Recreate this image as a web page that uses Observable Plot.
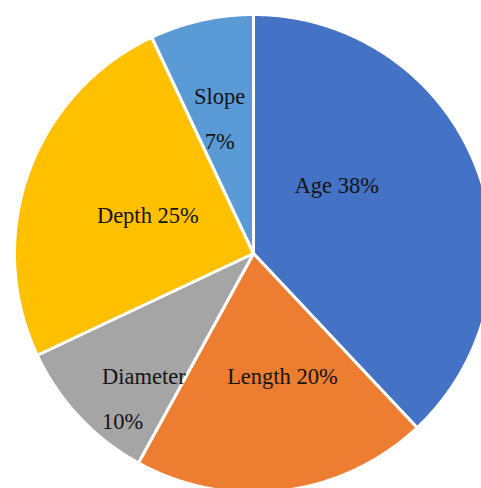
<!DOCTYPE html>
<html>
<head>
<meta charset="utf-8">
<script src="https://cdn.jsdelivr.net/npm/d3@7"></script>
<script src="https://cdn.jsdelivr.net/npm/@observablehq/plot@0.6"></script>
<style>
  html, body { margin: 0; padding: 0; background: #ffffff; }
  #chart { width: 481px; height: 488px; overflow: hidden; }
</style>
</head>
<body>
<div id="chart"></div>
<script>
// ---- data ----
const categories = ["Age", "Length", "Diameter", "Depth", "Slope"];
const shares = [38, 20, 10, 25, 7];
const labelTexts = ["Age 38%", "Length 20%", "Diameter\n10%", "Depth 25%", "Slope\n7%"];
const colors = ["#4472C4", "#ED7D31", "#A5A5A5", "#FFC000", "#5B9BD5"];

// ---- layout (label placement relative to slice mid-angle, in radius units) ----
const labelRadius = [0.45, 0.53, 0.88, 0.47, 0.58];
const labelAngleShift = [-17.7, -6, -0.7, 0, -1.5]; // degrees
const labelAnchor = ["middle", "middle", "start", "middle", "middle"];

const W = 481, H = 488;
const R = 239, CX = 253, CY = 253;  // pixel geometry of the pie frame

const pie = d3.pie().sort(null).value(d => d)(shares);

function slicePoints(a, i) {
  const pts = [{x: 0, y: 0, name: categories[i]}];
  const n = Math.max(2, Math.ceil((a.endAngle - a.startAngle) / (Math.PI / 360)));
  for (let k = 0; k <= n; k++) {
    const t = a.startAngle + (a.endAngle - a.startAngle) * k / n;
    pts.push({x: Math.sin(t), y: Math.cos(t), name: categories[i]});
  }
  pts.push({x: 0, y: 0, name: categories[i]});
  return pts;
}

const labels = pie.map((a, i) => {
  const mid = (a.startAngle + a.endAngle) / 2 + labelAngleShift[i] * Math.PI / 180;
  const r = labelRadius[i];
  return {
    x: r * Math.sin(mid),
    y: r * Math.cos(mid),
    text: labelTexts[i],
    anchor: labelAnchor[i]
  };
});

const marks = pie.map((a, i) => Plot.line(slicePoints(a, i), {
  x: "x", y: "y",
  fill: colors[i],
  stroke: "#ffffff",
  strokeWidth: 3,
  strokeLinejoin: "round"
}));

for (const anchor of ["middle", "start"]) {
  marks.push(Plot.text(labels.filter(d => d.anchor === anchor), {
    x: "x", y: "y", text: "text",
    textAnchor: anchor,
    lineHeight: 2,
    dy: -7,
    fill: "#141414",
    fontSize: 22.5
  }));
}

const chart = Plot.plot({
  width: W,
  height: H,
  margin: 0,
  style: {background: "#ffffff", fontFamily: "'Liberation Serif', 'Times New Roman', serif"},
  x: {domain: [-CX / R, (W - CX) / R], axis: null},
  y: {domain: [-(H - CY) / R, CY / R], axis: null},
  marks
});

document.getElementById("chart").appendChild(chart);
</script>
</body>
</html>
